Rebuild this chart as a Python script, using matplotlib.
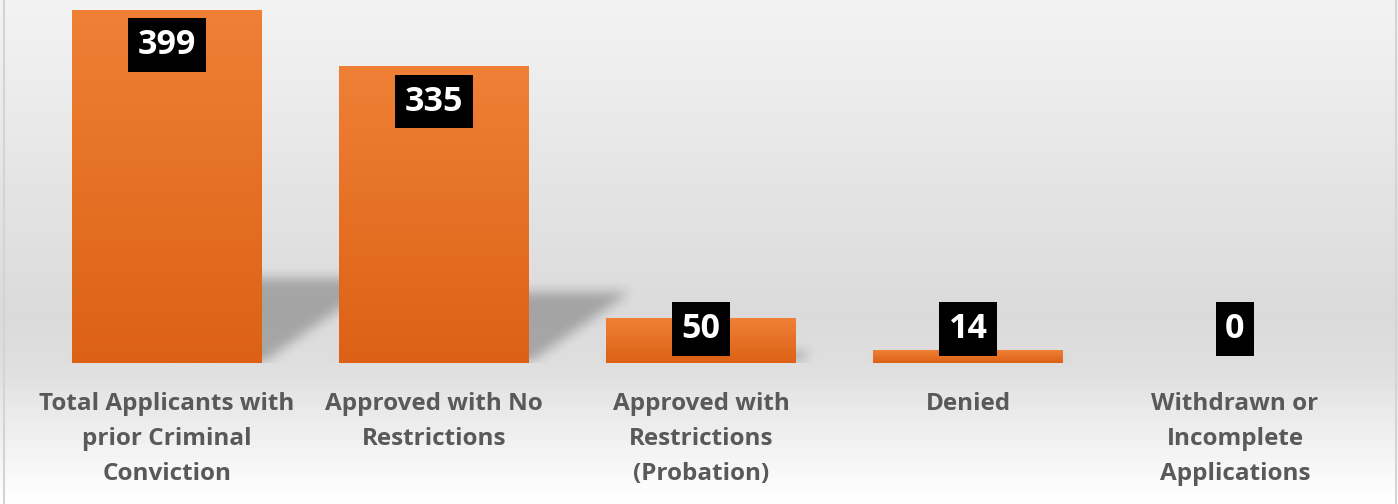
import numpy as np
import matplotlib
matplotlib.use('Agg')
import matplotlib.pyplot as plt
from matplotlib.colors import LinearSegmentedColormap

# data
categories = ['Total Applicants with\nprior Criminal\nConviction',
              'Approved with No\nRestrictions',
              'Approved with\nRestrictions\n(Probation)',
              'Denied',
              'Withdrawn or\nIncomplete\nApplications']
values = [399, 335, 50, 14, 0]

W, H = 1398, 504
fig = plt.figure(figsize=(W / 100, H / 100), dpi=100)

# background gradient (whole figure)
bg = fig.add_axes([0, 0, 1, 1])
yy = np.linspace(0, 1, H)[:, None]
shade = np.interp(yy, [0, 0.62, 0.72, 1.0], [0.95, 0.855, 0.87, 1.0])
bg.imshow(np.repeat(shade, W, axis=1), cmap='gray', vmin=0, vmax=1,
          aspect='auto', extent=[0, W, H, 0])
bg.plot([3.5, 3.5], [0, H], color='#d4d4d4', lw=1.5)
bg.plot([W - 2.5, W - 2.5], [0, H], color='#d4d4d4', lw=1.5)
bg.set_xlim(0, W); bg.set_ylim(H, 0)
bg.axis('off')

# main axes placed in pixel terms
x0, x1 = 33.5, 1368.5
ybase, ytop = 363, 10
ax = fig.add_axes([x0 / W, (H - ybase) / H, (x1 - x0) / W, (ybase - ytop) / H])
ax.patch.set_alpha(0)
ax.axis('off')
px_per_unit = (ybase - ytop) / max(values)
px_per_cat = (x1 - x0) / 5
bw = 0.71

# perspective shadows, rasterised and blurred
ny, nx = 140, int(x1 - x0)
gx = np.linspace(-0.5, 4.5, nx)[None, :]
gy = np.linspace(0, ny / px_per_unit, ny)[:, None]
mask = np.zeros((ny, nx))
for i, v in enumerate(values):
    if v <= 0:
        continue
    h_sh = v * 0.24
    dx = v * px_per_unit * 0.34 / px_per_cat
    t = gy / h_sh
    inside = (gy <= h_sh) & (gx >= i - bw / 2 + t * dx) & (gx <= i + bw / 2 + t * dx)
    mask = np.maximum(mask, inside.astype(float))

def blur(a, r):
    k = np.ones(2 * r + 1) / (2 * r + 1)
    for _ in range(2):
        a = np.apply_along_axis(lambda m: np.convolve(m, k, mode='same'), 0, a)
        a = np.apply_along_axis(lambda m: np.convolve(m, k, mode='same'), 1, a)
    return a

mask = blur(mask, 6)
rgba = np.zeros((ny, nx, 4))
rgba[..., 3] = mask * 0.25
ax.imshow(rgba, origin='lower', aspect='auto', interpolation='bilinear',
          extent=[-0.5, 4.5, 0, ny / px_per_unit], zorder=1)

# bars with vertical gradient
orange = LinearSegmentedColormap.from_list('or', ['#dc6114', '#ef8036'])
grad = np.linspace(0, 1, 256)[:, None]
for i, v in enumerate(values):
    if v <= 0:
        continue
    ax.imshow(grad, cmap=orange, origin='lower', aspect='auto',
              extent=[i - bw / 2, i + bw / 2, 0, v], zorder=2)
ax.set_xlim(-0.5, 4.5)
ax.set_ylim(0, max(values))

# value labels
for i, v in enumerate(values):
    yc = max(v - 35 / px_per_unit, 34 / px_per_unit)
    ax.text(i, yc, str(v), ha='center', va='center', color='white',
            fontsize=24.5, fontweight='bold', family='Open Sans', zorder=4,
            bbox=dict(boxstyle='square,pad=0.28', fc='black', ec='none'))

# category labels
for i, c in enumerate(categories):
    ax.annotate(c, xy=(i, 0), xycoords='data', xytext=(0, -29),
                textcoords='offset pixels', ha='center', va='top',
                color='#595959', fontsize=17.5, fontweight='bold',
                family='Open Sans', linespacing=1.62, annotation_clip=False)

fig.savefig('out.png', dpi=100)
